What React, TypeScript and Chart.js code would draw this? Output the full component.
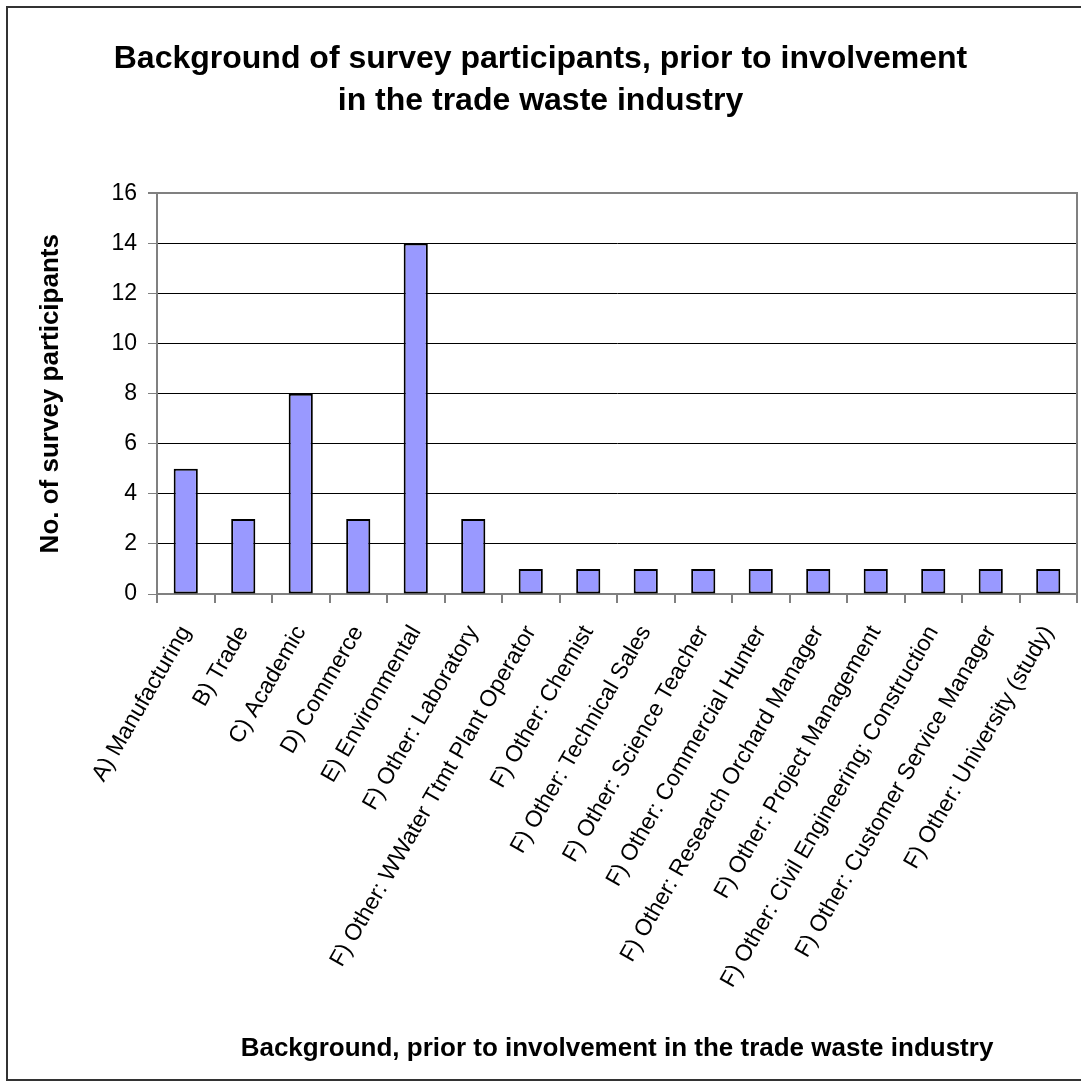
import React, { useEffect, useRef } from "react";
import { Chart, registerables } from "chart.js";

Chart.register(...registerables);

const CATEGORIES: string[] = [
  "A) Manufacturing",
  "B) Trade",
  "C) Academic",
  "D) Commerce",
  "E) Environmental",
  "F) Other: Laboratory",
  "F) Other: WWater Ttmt Plant Operator",
  "F) Other: Chemist",
  "F) Other: Technical Sales",
  "F) Other: Science Teacher",
  "F) Other: Commercial Hunter",
  "F) Other: Research Orchard Manager",
  "F) Other: Project Management",
  "F) Other: Civil Engineering; Construction",
  "F) Other: Customer Service Manager",
  "F) Other: University (study)",
];

const PARTICIPANTS: number[] = [5, 3, 8, 3, 14, 3, 1, 1, 1, 1, 1, 1, 1, 1, 1, 1];

const Y_MIN = 0;
const Y_MAX = 16;
const Y_STEP = 2;

const TITLE_LINES: string[] = [
  "Background of survey participants, prior to involvement",
  "in the trade waste industry",
];
const X_TITLE = "Background, prior to involvement in the trade waste industry";
const Y_TITLE = "No. of survey participants";

const FONT = "'Liberation Sans', Arial, Helvetica, sans-serif";
const W = 1081;
const H = 1088;

export default function App() {
  const ref = useRef<HTMLCanvasElement | null>(null);

  useEffect(() => {
    const canvas = ref.current;
    if (!canvas) return;
    const chart = new Chart(canvas, {
      type: "bar",
      data: {
        labels: CATEGORIES,
        datasets: [
          {
            label: Y_TITLE,
            data: PARTICIPANTS,
            backgroundColor: "#9999FF",
            borderColor: "#000000",
            borderWidth: 2,
            borderSkipped: false,
            barPercentage: 0.42,
            categoryPercentage: 1,
          },
        ],
      },
      options: {
        responsive: false,
        animation: false,
        devicePixelRatio: 1,
        layout: { padding: { top: 0, left: 0, right: 0, bottom: 0 } },
        plugins: {
          legend: { display: false },
          tooltip: { enabled: false },
          title: {
            display: true,
            text: TITLE_LINES,
            color: "#000000",
            font: { family: FONT, size: 32, weight: "bold", lineHeight: 1.32 },
            padding: { top: 38, bottom: 71 },
          },
        },
        scales: {
          x: {
            type: "category",
            offset: true,
            afterFit: (scale: any) => {
              scale.height = H - 594;
              scale.paddingLeft = 0;
              scale.paddingRight = 0;
            },
            grid: {
              offset: true,
              drawOnChartArea: false,
              drawTicks: true,
              tickLength: 9,
              color: "#808080",
              lineWidth: 2,
            },
            border: { display: true, color: "#808080", width: 2 },
            ticks: {
              autoSkip: false,
              maxRotation: 60,
              minRotation: 60,
              padding: 18,
              color: "#000000",
              font: { family: FONT, size: 23 },
            },
            title: {
              display: true,
              text: X_TITLE,
              color: "#000000",
              font: { family: FONT, size: 26, weight: "bold", lineHeight: 1.2 },
              padding: { top: 0, bottom: 24 },
            },
          },
          y: {
            type: "linear",
            position: "left",
            min: Y_MIN,
            max: Y_MAX,
            afterFit: (scale: any) => {
              scale.width = 157;
            },
            grid: {
              color: (ctx: any) => (ctx.tick && ctx.tick.value === Y_MAX ? "#808080" : "#000000"),
              lineWidth: (ctx: any) => (ctx.tick && ctx.tick.value === Y_MAX ? 2 : 1),
              tickColor: "#808080",
              tickLength: 9,
              drawTicks: true,
            },
            border: { display: true, color: "#808080", width: 2 },
            ticks: {
              stepSize: Y_STEP,
              padding: 11,
              color: "#000000",
              font: { family: FONT, size: 23 },
            },
            title: {
              display: true,
              text: Y_TITLE,
              color: "#000000",
              font: { family: FONT, size: 26, weight: "bold", lineHeight: 1.2 },
              padding: { top: 35, bottom: 0 },
            },
          },
          yRight: {
            type: "linear",
            position: "right",
            min: Y_MIN,
            max: Y_MAX,
            afterFit: (scale: any) => {
              scale.width = 4;
            },
            grid: { drawOnChartArea: false, drawTicks: false },
            border: { display: true, color: "#808080", width: 2 },
            ticks: { display: false },
          },
        },
      },
    });
    return () => chart.destroy();
  }, []);

  return (
    <div
      style={{
        position: "fixed",
        left: 0,
        top: 0,
        width: W,
        height: H,
        background: "#ffffff",
        overflow: "hidden",
      }}
    >
      <canvas ref={ref} width={W} height={H} style={{ display: "block", width: W, height: H }} />
      <div
        style={{
          position: "absolute",
          left: 6,
          top: 6,
          width: W + 10,
          height: 1075,
          border: "2px solid #333333",
          boxSizing: "border-box",
          pointerEvents: "none",
        }}
      />
    </div>
  );
}
